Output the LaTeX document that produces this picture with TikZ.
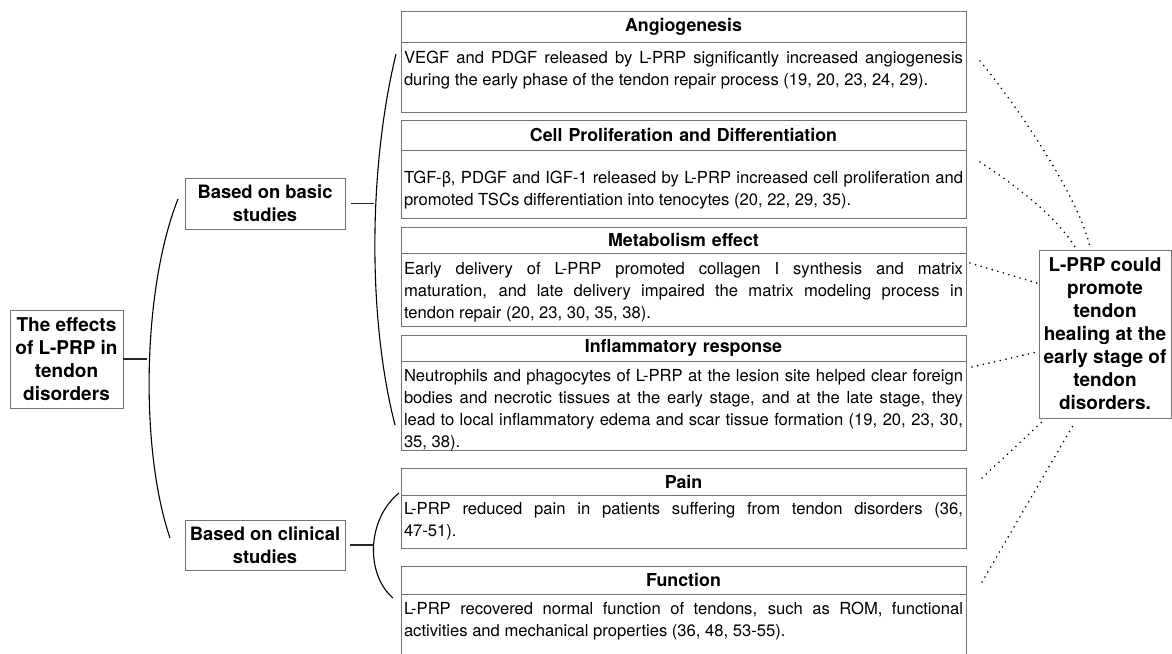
\documentclass[tikz,border=0pt]{standalone}
\usepackage{fontspec}
\setsansfont{TeX Gyre Heros}
\usepackage{tikz}
\usetikzlibrary{
    positioning,
    calc
}
\hyphenpenalty=10000
\exhyphenpenalty=10000
\tolerance=9999
\tikzset{
  basic/.style = {
      draw=black!55,
      line width=1pt,
      font=\sffamily,
      rectangle,
      anchor=north west,
      inner sep=0pt,
      outer sep=0pt
  },
  root/.style = {
      basic,
      align=center,
      font=\sffamily\bfseries\fontsize{19}{23}\selectfont
  },
  branch/.style = {
      root,
      minimum width=160,
      font=\sffamily\bfseries\fontsize{18.4}{22.7}\selectfont
  },
  head/.style = {
      basic,
      text width=559,
      inner xsep=3,
      align=center,
      font=\sffamily\bfseries\fontsize{17.8}{21}\selectfont
  },
  body/.style = {
      basic,
      anchor=north,
      text width=559,
      inner xsep=3,
      align=justify,
      font=\sffamily\fontsize{16.6}{22}\selectfont
  },
  result/.style = {
      root
  },
  stub/.style = {
      black!85,
      line width=1.1pt
  },
  brace/.style = {
      black,
      line width=1.1pt
  },
  link/.style = {
      black,
      line width=1.8pt,
      line cap=round,
      dash pattern=on 0pt off 5.8pt
  }
}

\begin{document}
\begin{tikzpicture}[x=1pt, y=-1pt]
    \useasboundingbox (0,0) rectangle (1172,653);
    % Left side
    \node[root, minimum width=113, minimum height=98] (effects) at (10,310)
        {The effects\\of L-PRP in\\tendon\\disorders};
    \node[branch, minimum height=51] (basic) at (185,178) {Based on basic\\studies};
    \node[branch, minimum height=50] (clinical) at (185,520) {Based on clinical\\studies};
    % Findings
    \node[head, minimum height=31] (angioH) at (401,11) {Angiogenesis};
    \node[body, below=0pt of angioH, text height=21.5, text depth=48.5] (angioB)
        {VEGF and PDGF released by L-PRP significantly increased angiogenesis\linebreak
         during the early phase of the tendon repair process (19, 20, 23, 24, 29).};
    \node[head, minimum height=30] (cellH) at (401,120) {Cell Proliferation and Differentiation};
    \node[body, below=0pt of cellH, text height=33, text depth=35] (cellB)
        {TGF-β, PDGF and IGF-1 released by L-PRP increased cell proliferation and\linebreak
         promoted TSCs differentiation into tenocytes (20, 22, 29, 35).};
    \node[head, minimum height=26] (metaH) at (401,227) {Metabolism effect};
    \node[body, below=0pt of metaH, text height=21.5, text depth=51.5] (metaB)
        {Early delivery of L-PRP promoted collagen I synthesis and matrix\linebreak
         maturation, and late delivery impaired the matrix modeling process in\linebreak
         tendon repair (20, 23, 30, 35, 38).};
    \node[head, minimum height=26] (inflH) at (401,335) {Inflammatory response};
    \node[body, below=0pt of inflH, text height=20.5, text depth=68.5] (inflB)
        {Neutrophils and phagocytes of L-PRP at the lesion site helped clear foreign\linebreak
         bodies and necrotic tissues at the early stage, and at the late stage, they\linebreak
         lead to local inflammatory edema and scar tissue formation (19, 20, 23, 30,\linebreak
         35, 38).};
    \node[head, minimum height=27] (painH) at (401,468) {Pain};
    \node[body, below=0pt of painH, text height=19, text depth=34] (painB)
        {L-PRP reduced pain in patients suffering from tendon disorders (36,\linebreak
         47-51).};
    \node[head, minimum height=28] (funcH) at (401,566) {Function};
    \node[body, below=0pt of funcH, text height=20.5, text depth=45.5] (funcB)
        {L-PRP recovered normal function of tendons, such as ROM, functional\linebreak
         activities and mechanical properties (36, 48, 53-55).};
    % Outcome
    \node[result, minimum width=132, minimum height=168] (result) at (1039,250)
        {L-PRP could\\promote\\tendon\\healing at the\\early stage of\\tendon\\disorders.};

    % Brackets
    \coordinate (effJoin) at (147,359);
    \coordinate (effTop) at (178,199);
    \coordinate (effBot) at (170,538);
    \draw[stub] (effects.east) -- (effJoin);
    \draw[brace] (effTop) .. controls (142,290) and (140,450) .. (effBot);
    \coordinate (basJoin) at (374,203.5);
    \coordinate (basTop) at (396,54);
    \coordinate (basBot) at (395,425);
    \draw[stub] ([xshift=6]basic.east) -- (basJoin);
    \draw[brace] (basTop) .. controls (368,170) and (368,320) .. (basBot);
    \coordinate (cliJoin) at (373,545);
    \coordinate (cliTop) at (399,493);
    \coordinate (cliBot) at (393,598);
    \draw[stub] ([xshift=5]clinical.east) -- (cliJoin);
    \draw[brace] (cliTop) .. controls (366,520) and (366,575) .. (cliBot);

    % Links to the outcome
    \coordinate (angioTip) at (980,61);
    \coordinate (cellTip) at (980,162);
    \coordinate (metaTip) at (970,263);
    \coordinate (inflTip) at (972,367);
    \coordinate (painTip) at (982,478);
    \coordinate (funcTip) at (982,582);
    \draw[link] (angioTip) .. controls (1015,103) and (1078,195) .. ([xshift=-15,yshift=3]result.north);
    \draw[link] (cellTip) .. controls (1015,185) and (1055,215) .. ([xshift=-30,yshift=3]result.north);
    \draw[link] (metaTip) -- ([xshift=-2,yshift=51]result.west);
    \draw[link] (inflTip) -- ([xshift=-2,yshift=-18]result.west);
    \draw[link] (painTip) -- ([xshift=5,yshift=-2]result.south west);
    \draw[link] (funcTip) -- ([xshift=-30,yshift=-4]result.south);
\end{tikzpicture}
\end{document}
